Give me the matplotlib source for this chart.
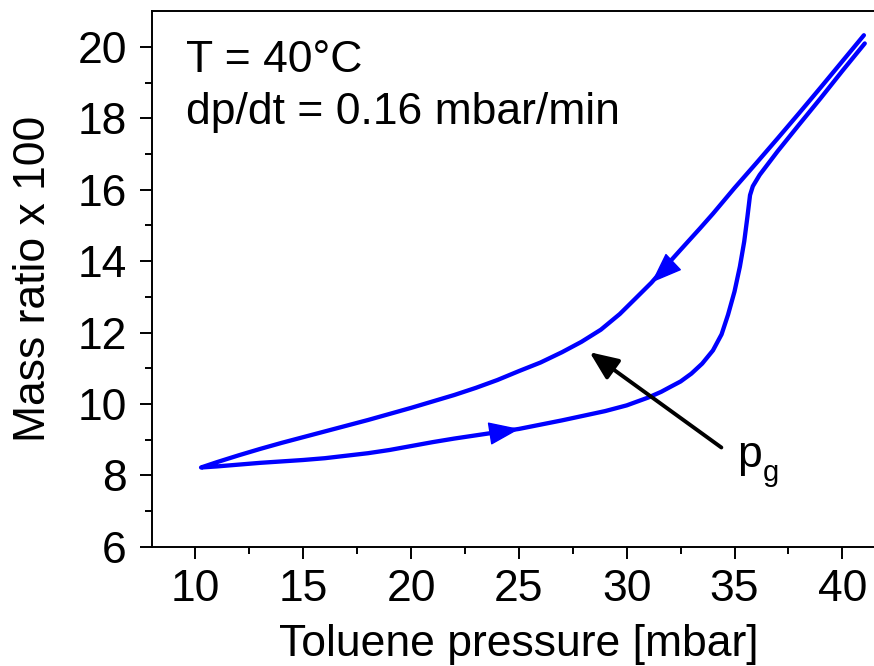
import numpy as np
import matplotlib.pyplot as plt

# Desorption branch (pressure falling), toluene pressure in mbar
p_desorb = [41.00, 40.00, 39.00, 38.00, 37.00, 36.00, 35.00, 34.00, 33.40,
            32.50, 31.80, 31.15, 30.40, 29.68, 28.80, 27.90, 27.00, 26.00,
            25.00, 24.00, 23.00, 22.00, 21.00, 20.00, 19.00, 18.00, 17.00,
            16.00, 15.00, 14.00, 13.00, 12.00, 11.00, 10.26]
m_desorb = [20.33, 19.60, 18.87, 18.15, 17.44, 16.74, 16.05, 15.33, 14.92,
            14.32, 13.85, 13.40, 12.95, 12.52, 12.08, 11.74, 11.45, 11.16,
            10.92, 10.67, 10.45, 10.25, 10.07, 9.89, 9.72, 9.55, 9.39,
            9.23, 9.07, 8.91, 8.74, 8.56, 8.37, 8.22]

# Adsorption branch (pressure rising)
p_adsorb = [10.26, 11.00, 12.00, 13.00, 14.00, 15.00, 16.00, 17.00, 18.00,
            19.00, 20.00, 21.00, 22.00, 23.00, 24.00, 25.00, 26.00, 27.00,
            28.00, 29.00, 30.00, 31.00, 31.60, 32.00, 32.50, 33.00, 33.50,
            34.00, 34.40, 34.70, 35.00, 35.25, 35.45, 35.60, 35.72, 35.85,
            36.02, 36.17, 37.00, 38.00, 39.00, 40.00, 41.04]
m_adsorb = [8.22, 8.25, 8.30, 8.35, 8.39, 8.43, 8.48, 8.55, 8.62,
            8.71, 8.82, 8.93, 9.03, 9.12, 9.21, 9.30, 9.42, 9.54,
            9.67, 9.80, 9.96, 10.18, 10.34, 10.47, 10.63, 10.85, 11.13,
            11.50, 11.95, 12.50, 13.15, 13.85, 14.55, 15.25, 15.85, 16.10,
            16.27, 16.42, 17.08, 17.83, 18.57, 19.33, 20.10]

# direction markers on the loop: (tail, tip)
adsorb_arrow = ((23.64, 9.17), (25.03, 9.30))
desorb_arrow = ((32.13, 13.96), (31.15, 13.40))
# pointer to the gate pressure label
pg_arrow = ((34.39, 8.78), (28.28, 11.45))

plt.rcParams['font.family'] = ['Liberation Sans', 'DejaVu Sans']
plt.rcParams['font.size'] = 32

fig = plt.figure(figsize=(8.74, 6.66), dpi=100)
ax = fig.add_axes([0.1743, 0.1791, 0.8388, 0.8039])

blue = '#0000ff'
p_loop = p_desorb + p_adsorb[1:]
m_loop = m_desorb + m_adsorb[1:]
ax.plot(p_loop, m_loop, color=blue, lw=3.1,
        solid_capstyle='round', solid_joinstyle='round')

head = '-|>,head_length=0.8,head_width=0.3'
for tail, tip in (adsorb_arrow, desorb_arrow):
    ax.annotate('', xy=tip, xytext=tail,
                arrowprops=dict(arrowstyle=head, mutation_scale=25,
                                color=blue, lw=1, shrinkA=0, shrinkB=0))

ax.annotate('', xy=pg_arrow[1], xytext=pg_arrow[0],
            arrowprops=dict(arrowstyle='-|>,head_length=0.75,head_width=0.32',
                            mutation_scale=23, color='black', lw=2.8,
                            shrinkA=0, shrinkB=0))

ax.text(35.1, 8.23, 'p', fontsize=32, va='baseline', ha='left')
ax.text(36.3, 7.84, 'g', fontsize=21, va='baseline', ha='left')

ax.text(9.57, 19.30, 'T = 40°C', fontsize=32, va='baseline', ha='left')
ax.text(9.57, 17.84, 'dp/dt = 0.16 mbar/min', fontsize=32,
        va='baseline', ha='left')

ax.set_xlim(8, 42)
ax.set_ylim(6, 21)
ax.set_xticks(range(10, 41, 5))
ax.set_xticks(np.arange(12.5, 41, 5), minor=True)
ax.set_yticks(range(6, 21, 2))
ax.set_yticks(range(7, 21, 2), minor=True)

ax.tick_params(which='both', direction='out', width=1.4,
               top=False, right=False)
ax.tick_params(which='major', length=8.6)
ax.tick_params(which='minor', length=5)
ax.tick_params(axis='x', which='major', pad=7.7)
ax.tick_params(axis='y', which='major', pad=9.7)

for side in ('left', 'bottom', 'top'):
    ax.spines[side].set_linewidth(1.4)
ax.spines['right'].set_visible(False)

ax.set_xlabel('Toluene pressure [mbar]')
ax.set_ylabel('Mass ratio x 100')
ax.xaxis.set_label_coords(0.5, -0.1451)
ax.yaxis.set_label_coords(-0.1337, 0.5)

fig.savefig('out.png', dpi=100)
